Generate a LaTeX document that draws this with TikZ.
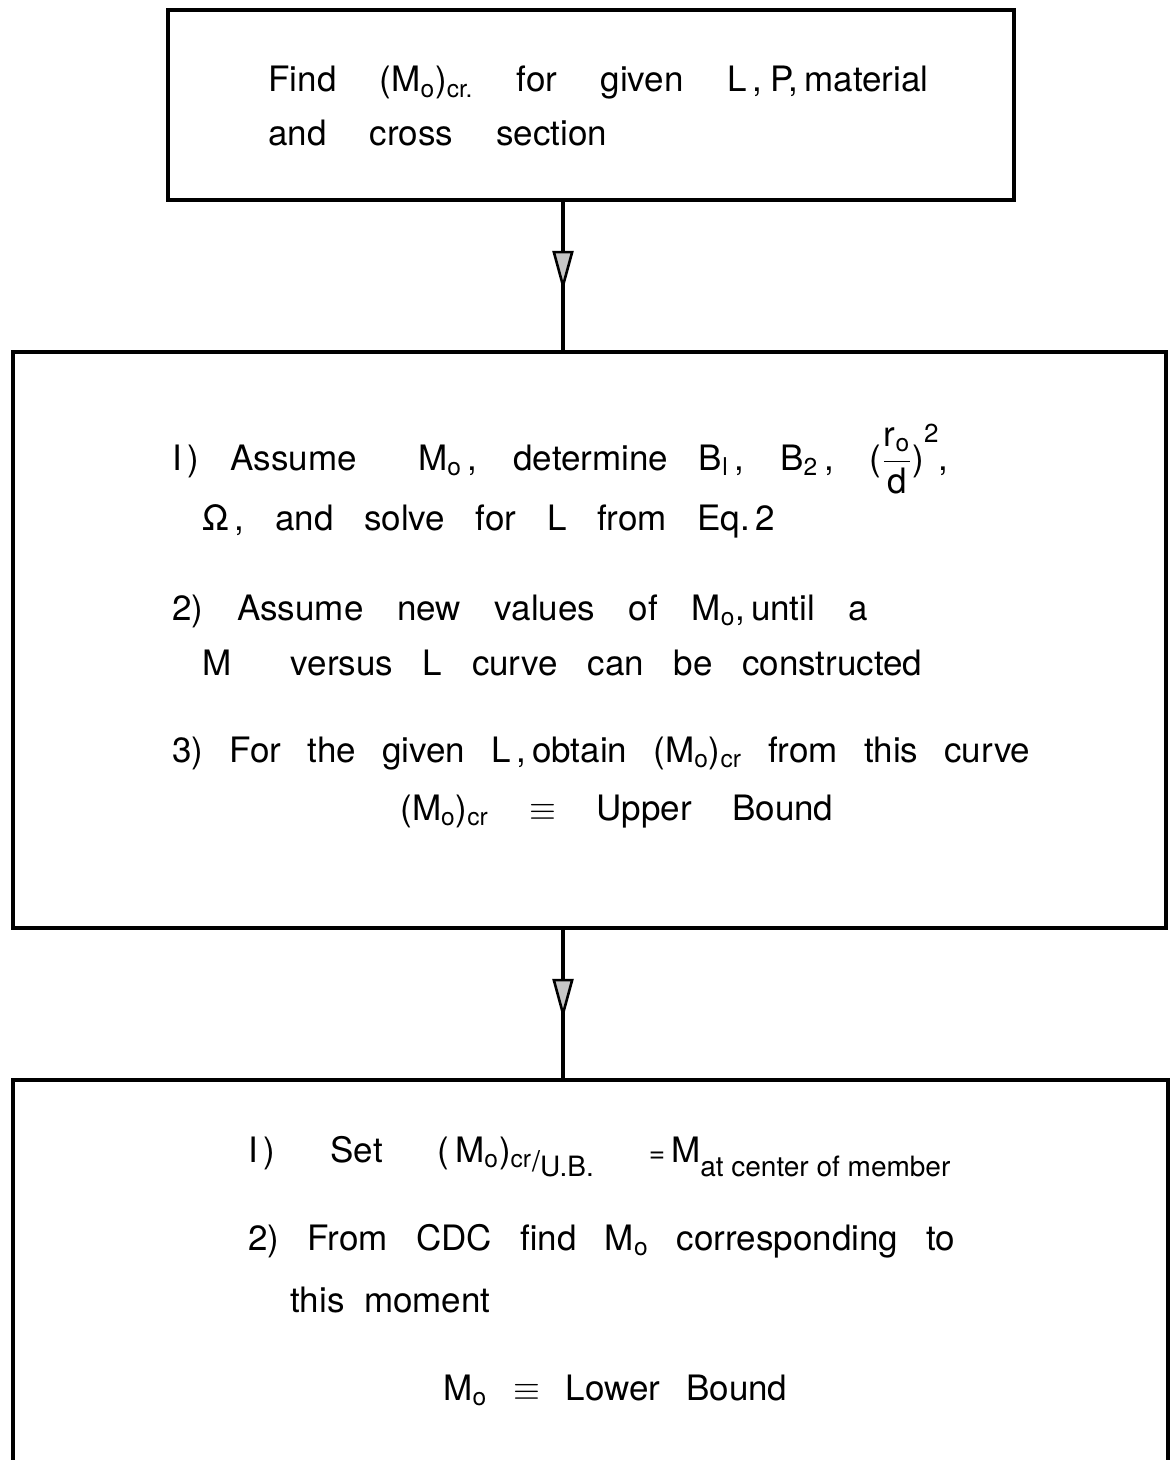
\documentclass[tikz,border=0pt]{standalone}
\usepackage{fontspec}
\setmainfont{TeX Gyre Heros}
\usetikzlibrary{arrows.meta, decorations.markings}

\newcommand{\Mo}{M\textsubscript{o}}
\newcommand{\spreadto}[2]{\makebox[#1pt][s]{#2}}
\newcommand{\lowtxt}[1]{\raisebox{-0.8ex}{\fontsize{14}{16}\selectfont #1}}

\begin{document}
\begin{tikzpicture}[
    x=0.5pt, y=-0.5pt,
    font=\fontsize{17.5}{21}\selectfont,
    box/.style   ={draw, line width=2.2pt, inner sep=0pt},
    txt/.style   ={anchor=base west, inner sep=0pt},
    flow/.style  ={line width=1.6pt,
                   postaction={decorate, decoration={markings,
                     mark=at position 0.6 with {\arrow[line width=1.3pt]{Triangle[length=20pt, width=10.5pt, fill=gray!45]}}}}}
]

\useasboundingbox (0,0) rectangle (1172,1460);
\clip (0,0) rectangle (1172,1460);

% =================== TOP BOX ===================
\node[box, minimum width=423pt, minimum height=95pt] (find) at (591,105) {};
\node[txt] (f1) at (268,92)  {\spreadto{330}{Find (\Mo)\textsubscript{cr.} for given L\hspace{3pt},\hspace{4pt}P,\,material}};
\node[txt] (f2) at (268,146) {\spreadto{169.5}{and cross section}};

% =================== MIDDLE BOX: upper bound ===================
\node[box, minimum width=576.5pt, minimum height=288pt] (upper) at (589.5,640) {};
\node[txt] (u1) at (172,470) {\spreadto{388}{I\,) Assume \ \Mo\,, determine B\textsubscript{l}\,, B\textsubscript{2}\,,
    (\ensuremath{\displaystyle\frac{\mbox{r\textsubscript{o}}}{\mbox{d}}})\raisebox{1.5ex}{\fontsize{13}{15}\selectfont 2},}};
\node[txt] (u2) at (202,530) {\spreadto{286.5}{Ω\,, and solve for L from Eq.\,2}};
\node[txt] (u3) at (172,620) {\spreadto{348}{2) Assume new values of \Mo,\,until a}};
\node[txt] (u4) at (202,675) {\spreadto{360}{M \ versus L curve can be constructed}};
\node[txt] (u5) at (172,762) {\spreadto{429}{3) For the given L\,,\,obtain (\Mo)\textsubscript{cr} from this curve}};
\node[txt] (u6) at (400,820) {\spreadto{216.5}{(\Mo)\textsubscript{cr} $\equiv$ Upper Bound}};

% =================== BOTTOM BOX: lower bound ===================
\node[box, minimum width=577.5pt, minimum height=210pt] (lower) at (590.5,1290) {};
\node[txt] (l1) at (248,1162) {\spreadto{351}{I\,) Set (\,\Mo)\textsubscript{cr}\raisebox{-0.5ex}{\Large/}\lowtxt{U.B.}
    {\fontsize{14}{16}\selectfont =}\,M\lowtxt{at center of member}}};
\node[txt] (l2) at (248,1250) {\spreadto{353.5}{2) From CDC find \Mo\ corresponding to}};
\node[txt] (l3) at (290,1312) {this\ \ moment};
\node[txt] (l4) at (443,1400) {\spreadto{172}{\Mo\ $\equiv$ Lower Bound}};

% --- connectors ---
\coordinate (ax) at (563,0);
\draw[flow] (find.south -| ax) -- (upper.north -| ax);
\draw[flow] (upper.south -| ax) -- (lower.north -| ax);

\end{tikzpicture}
\end{document}
